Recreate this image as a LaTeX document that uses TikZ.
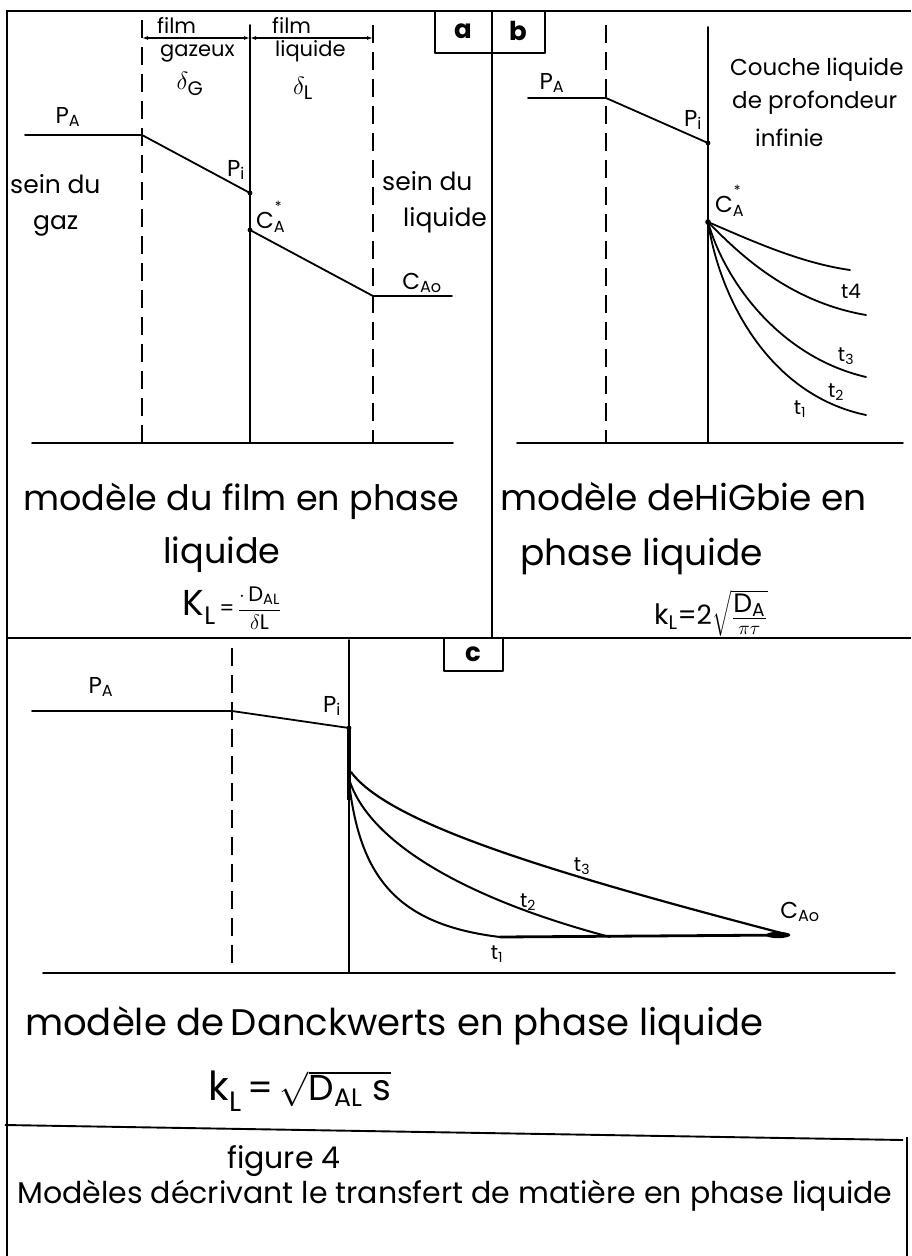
\documentclass[tikz,border=0pt]{standalone}
\usepackage{fontspec}
\setmainfont{Poppins}
\usetikzlibrary{arrows.meta}
\newcommand{\fs}[1]{\fontsize{#1}{#1}\selectfont}
\tikzset{
  ln/.style={line width=1.8pt, line cap=round, line join=round},
  frm/.style={line width=1.9pt},
  dsh/.style={line width=1.8pt, dash pattern=on 18pt off 9pt},
  crv/.style={line width=1.8pt, line cap=round},
  txt/.style={inner sep=0pt, anchor=base west},
  lbl/.style={inner sep=0pt, font=\fs{23}},
  tl/.style={inner sep=0pt, font=\fs{20}},
  big/.style={inner sep=0pt, anchor=base west, font=\fs{36}},
  mid/.style={inner sep=0pt, anchor=base west, font=\fs{25}},
  sml/.style={inner sep=0pt, anchor=base west, font=\fs{21}},
  boxl/.style={inner sep=0pt, font=\bfseries\fs{26}},
  dot/.style={fill=black},
  dim/.style={line width=1.4pt, {Latex[length=6pt,width=4pt]}-{Latex[length=6pt,width=4pt]}}
}
\begin{document}
\begin{tikzpicture}[x=1pt,y=-1pt]
\useasboundingbox (0,0) rectangle (911,1256);
\fill[white] (0,0) rectangle (911,1256);

% ---------- frame ----------
\coordinate (FL) at (7,1256); \coordinate (FTL) at (7,11); \coordinate (FTR) at (911,11);
\draw[frm] (FL) -- (FTL) -- (FTR);
\coordinate (H1l) at (7,638); \coordinate (H1r) at (911,638);
\draw[frm] (H1l) -- (H1r);
\coordinate (Vt) at (492,11); \coordinate (Vb) at (492,638);
\draw[frm] (Vt) -- (Vb);
\coordinate (H2l) at (5,1125); \coordinate (H2r) at (903,1140);
\draw[frm] (H2l) -- (H2r);
\coordinate (Rt) at (907,1137); \coordinate (Rb) at (907,1256);
\draw[frm] (Rt) -- (Rb);

% boxes a, b, c
\draw[ln] (435,11) -- (435,53) -- (492,53);
\node[boxl] (la) at (463,31) {a};
\draw[ln] (492,53) -- (545,53) -- (545,11);
\node[boxl] (lb) at (518,31) {b};
\draw[ln] (444,638) -- (444,671) -- (503,671) -- (503,638);
\node[boxl] (lc) at (473,654) {c};

% ---------- panel a ----------
\coordinate (aD1t) at (142,20); \coordinate (aD1b) at (142,443);
\coordinate (aIt) at (250,25);  \coordinate (aIb) at (250,443);
\coordinate (aD2t) at (373,25); \coordinate (aD2b) at (373,443);
\draw[dsh] (aD1t) -- (aD1b);
\draw[ln] (aIt) -- (aIb);
\draw[dsh] (aD2t) -- (aD2b);
\coordinate (aB1) at (32,443); \coordinate (aB2) at (453,443);
\draw[ln] (aB1) -- (aB2);
\coordinate (aA1) at (142,38); \coordinate (aA2) at (250,38); \coordinate (aA3) at (373,38);
\draw[dim] (aA1) -- (aA2);
\draw[dim] (aA2) -- (aA3);
\coordinate (aP0) at (25,135); \coordinate (aP1) at (142,135); \coordinate (aPi) at (250,193);
\coordinate (aC1) at (250,230); \coordinate (aC2) at (373,296); \coordinate (aC3) at (452,296);
\draw[ln] (aP0) -- (aP1) -- (aPi);
\draw[ln] (aC1) -- (aC2) -- (aC3);
\fill[dot] (aPi) circle (2.4pt);
\fill[dot] (aC1) circle (2.4pt);

\node[sml] (afilm1) at (157,33) {film};
\node[sml] (agaz) at (160,56) {gazeux};
\node[lbl,font=\fs{28}] (adG) at (190,84) {$\delta_{\mathrm{G}}$};
\node[sml] (afilm2) at (272,33) {film};
\node[sml] (aliq) at (275,56) {liquide};
\node[lbl,font=\fs{28}] (adL) at (303,88) {$\delta_{\mathrm{L}}$};
\node[lbl] (aPA) at (68,117) {P\textsubscript{A}};
\node[lbl] (aPil) at (236,170) {P\textsubscript{i}};
\node[lbl] (aCA) at (269,217) {C\textsubscript{A}\kern-0.45em\raisebox{0.75em}{\fs{14}*}};
\node[lbl] (aCAo) at (422,283) {C\textsubscript{Ao}};
\node[mid] (asein1) at (10,193) {sein du};
\node[mid] (agaz2) at (33,229) {gaz};
\node[mid] (asein2) at (382,190) {sein du};
\node[mid] (aliq2) at (403,226) {liquide};

\node[big,font=\fs{35}] (atit1) at (23,510) {modèle du film en phase};
\node[big,font=\fs{35}] (atit2) at (163,563) {liquide};
\node[inner sep=0pt] (aform) at (232,608) {{\fs{36}K\textsubscript{L}}{\fs{21}\,=\,$\displaystyle\frac{\hbox{$\cdot$\,D\textsubscript{AL}}}{\hbox{$\delta$L}}$}};

% ---------- panel b ----------
\coordinate (bDt) at (606,25); \coordinate (bDb) at (606,443);
\coordinate (bIt) at (708,27); \coordinate (bIb) at (708,443);
\draw[dsh] (bDt) -- (bDb);
\draw[ln] (bIt) -- (bIb);
\coordinate (bB1) at (517,443); \coordinate (bB2) at (903,443);
\draw[ln] (bB1) -- (bB2);
\coordinate (bP0) at (528,98); \coordinate (bP1) at (606,98); \coordinate (bPi) at (708,143);
\draw[ln] (bP0) -- (bP1) -- (bPi);
\fill[dot] (bPi) circle (2.4pt);
\coordinate (bC0) at (708,222);
\fill[dot] (bC0) circle (2.8pt);
\coordinate (bE1) at (850,270); \coordinate (bE2) at (866,315);
\coordinate (bE3) at (866,377); \coordinate (bE4) at (866,415);
\draw[crv] (bC0) .. controls (750,240) and (800,263) .. (bE1);
\draw[crv] (bC0) .. controls (740,255) and (790,302) .. (bE2);
\draw[crv] (bC0) .. controls (725,282) and (780,357) .. (bE3);
\draw[crv] (bC0) .. controls (720,300) and (770,395) .. (bE4);

\node[lbl] (bPA) at (552,83) {P\textsubscript{A}};
\node[lbl] (bPil) at (693,120) {P\textsubscript{i}};
\node[lbl] (bCA) at (728,201) {C\textsubscript{A}\kern-0.45em\raisebox{0.75em}{\fs{14}*}};
\node[mid,font=\fs{23}] (bc1) at (730,75) {Couche liquide};
\node[mid,font=\fs{23}] (bc2) at (732,108) {de profondeur};
\node[mid,font=\fs{23}] (bc3) at (755,146) {infinie};
\node[tl] (bt4) at (851,291) {t4};
\node[tl] (bt3) at (846,356) {t\textsubscript{3}};
\node[tl] (bt2) at (836,392) {t\textsubscript{2}};
\node[tl] (bt1) at (800,409) {t\textsubscript{1}};

\node[big] (btit1) at (500,510) {modèle deHiGbie en};
\node[big] (btit2) at (520,565) {phase liquide};
\node[inner sep=0pt] (bform) at (711,613) {{\fs{28}k\textsubscript{L}}\scalebox{1.9}{\fs{14}=2$\sqrt{\frac{\hbox{D\textsubscript{A}}}{\pi\tau}}$}};

% ---------- panel c ----------
\coordinate (cDt) at (232,648); \coordinate (cDb) at (232,973);
\coordinate (cIt) at (349,640); \coordinate (cIb) at (349,973);
\draw[dsh] (cDt) -- (cDb);
\draw[ln] (cIt) -- (cIb);
\coordinate (cTh1) at (349,728); \coordinate (cTh2) at (349,800);
\draw[line width=3.2pt] (cTh1) -- (cTh2);
\coordinate (cB1) at (43,973); \coordinate (cB2) at (895,973);
\draw[ln] (cB1) -- (cB2);
\coordinate (cP0) at (32,711); \coordinate (cP1) at (232,711); \coordinate (cPi) at (349,728);
\draw[ln] (cP0) -- (cP1) -- (cPi);
\fill[dot] (cPi) circle (2.4pt);
\coordinate (cS3) at (351,772); \coordinate (cS2) at (350,782); \coordinate (cS1) at (350,790);
\coordinate (cE) at (789,935); \coordinate (cM2) at (610,937); \coordinate (cM1) at (500,937);
\draw[crv,line width=2.2pt] (cS3) .. controls (390,825) and (560,875) .. (cE);
\draw[crv,line width=2pt] (cS2) .. controls (372,845) and (470,900) .. (cM2);
\draw[crv,line width=2pt] (cS1) .. controls (362,880) and (400,925) .. (cM1);
\draw[crv,line width=2.8pt] (cM1) -- (cE);
\fill[dot] (778,935) ellipse (12pt and 3.2pt);

\node[lbl] (cPA) at (101,687) {P\textsubscript{A}};
\node[lbl] (cPil) at (332,706) {P\textsubscript{i}};
\node[tl] (ct3) at (582,866) {t\textsubscript{3}};
\node[tl] (ct2) at (528,902) {t\textsubscript{2}};
\node[tl] (ct1) at (497,954) {t\textsubscript{1}};
\node[lbl] (cCAo) at (800,912) {C\textsubscript{Ao}};

\node[big,font=\fs{37}] (ctit) at (25,1035) {modèle de\,Danckwerts en phase liquide};
\node[inner sep=0pt] (cform) at (300,1091) {{\fs{40}k\textsubscript{L}}\scalebox{2}{\fs{18}\,=\,$\sqrt{\hbox{D\textsubscript{AL}\ s}}$}};

\node[txt,font=\fs{30}] (fig) at (227,1168) {figure 4};
\node[txt,font=\fs{30}] (cap) at (17,1203) {Modèles décrivant le transfert de matière en phase liquide};

\end{tikzpicture}
\end{document}
